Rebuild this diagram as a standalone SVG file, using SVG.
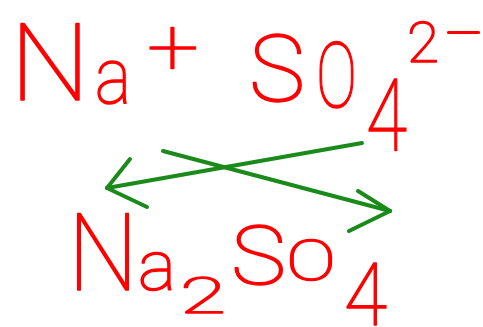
<svg xmlns="http://www.w3.org/2000/svg" width="483" height="327" viewBox="0 0 483 327">
<style>
text{font-family:"Roboto","DejaVu Sans",sans-serif;fill:#ff0000;stroke:#ff0000;stroke-width:1.5;stroke-linejoin:round;font-weight:100}
.c line{stroke:#1a8a1a;stroke-width:4;stroke-linecap:round}
</style>
<rect width="483" height="327" fill="#ffffff"/>
<g id="na-ion">
<text><tspan x="10" y="100" font-size="107" textLength="80" lengthAdjust="spacingAndGlyphs">N</tspan><tspan x="95" y="103" font-size="77" textLength="36" lengthAdjust="spacingAndGlyphs">a</tspan><tspan x="147" y="74" font-size="80" textLength="52" lengthAdjust="spacingAndGlyphs">+</tspan></text>
</g>
<g id="so4-ion">
<text><tspan x="249" y="101" font-size="93" textLength="56" lengthAdjust="spacingAndGlyphs">S</tspan><tspan x="316" y="107" font-size="90" textLength="41" lengthAdjust="spacingAndGlyphs">O</tspan><tspan x="366" y="150" font-size="100" textLength="41" lengthAdjust="spacingAndGlyphs">4</tspan><tspan x="407" y="62" font-size="56" textLength="32" lengthAdjust="spacingAndGlyphs">2</tspan><tspan x="445" y="51" font-size="55" textLength="38" lengthAdjust="spacingAndGlyphs">-</tspan></text>
</g>
<g id="na2so4">
<text><tspan x="68" y="290" font-size="107" textLength="70" lengthAdjust="spacingAndGlyphs">N</tspan><tspan x="138" y="290" font-size="71" textLength="38" lengthAdjust="spacingAndGlyphs">a</tspan><tspan x="180" y="313" font-size="50" textLength="46" lengthAdjust="spacingAndGlyphs">2</tspan><tspan x="231" y="284" font-size="82" textLength="55" lengthAdjust="spacingAndGlyphs">S</tspan><tspan x="286" y="280" font-size="55" textLength="50" lengthAdjust="spacingAndGlyphs">O</tspan><tspan x="344" y="325" font-size="87" textLength="43" lengthAdjust="spacingAndGlyphs">4</tspan></text>
</g>
<g id="connectors" class="c">
<line x1="362" y1="143" x2="107" y2="188"/>
<line x1="107" y1="188" x2="130" y2="159"/>
<line x1="107" y1="188" x2="147" y2="207"/>
<line x1="163" y1="151" x2="390" y2="211"/>
<line x1="390" y1="211" x2="358" y2="191"/>
<line x1="390" y1="211" x2="349" y2="231"/>
</g>
</svg>
